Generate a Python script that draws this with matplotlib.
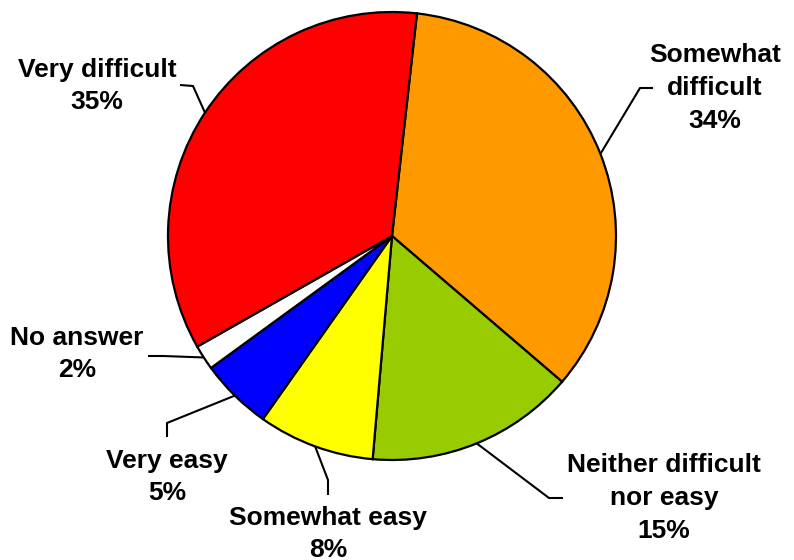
import numpy as np
import matplotlib
matplotlib.use("Agg")
import matplotlib.pyplot as plt

plt.rcParams["font.family"] = ["Liberation Sans", "DejaVu Sans"]

# slices in clockwise order from the top
LABELS = ["Somewhat\ndifficult", "Neither difficult\nnor easy", "Somewhat easy",
          "Very easy", "No answer", "Very difficult"]
SHARES = [34.5, 15.1, 8.4, 5.2, 1.8, 35.0]
PCT_TEXT = ["34%", "15%", "8%", "5%", "2%", "35%"]
COLORS = ["#FF9900", "#99CC00", "#FFFF00", "#0000FF", "#FFFFFF", "#FF0000"]

W, H = 794, 560
CX, CY, R = 392, H - 236, 224

# label centre, elbow, end of leader (pixel coords, y from top)
LABEL_POS = [(715, 88), (664, 498), (328, 534), (167, 477), (77, 354), (97, 86)]
ELBOW = [(640, 88), (549, 498), (328, 480), (167, 423), (163, 356), (193, 86)]
LEAD_END = [(653, 88), (563, 498), (328, 495), (167, 437), (148, 356), (180, 85)]

fig = plt.figure(figsize=(W / 100, H / 100), dpi=100)
ax = fig.add_axes([0, 0, 1, 1])
ax.axis("off")

wedges, _ = ax.pie(SHARES, colors=COLORS, startangle=83.6, counterclock=False,
                   center=(CX, CY), radius=R,
                   wedgeprops=dict(edgecolor="black", linewidth=1.6))
ax.set_xlim(0, W)
ax.set_ylim(0, H)
ax.set_aspect("equal")

for w, lab, pct, lp, el, le in zip(wedges, LABELS, PCT_TEXT, LABEL_POS, ELBOW, LEAD_END):
    mid = np.deg2rad((w.theta1 + w.theta2) / 2)
    px, py = CX + R * np.cos(mid), CY + R * np.sin(mid)
    ax.plot([px, el[0], le[0]], [py, H - el[1], H - le[1]], color="black", lw=1.5,
            solid_capstyle="butt")
    ax.text(lp[0], H - lp[1], lab + "\n" + pct, ha="center", va="center",
            fontsize=19, fontweight="bold", linespacing=1.45)

fig.savefig("out.png", dpi=100)
